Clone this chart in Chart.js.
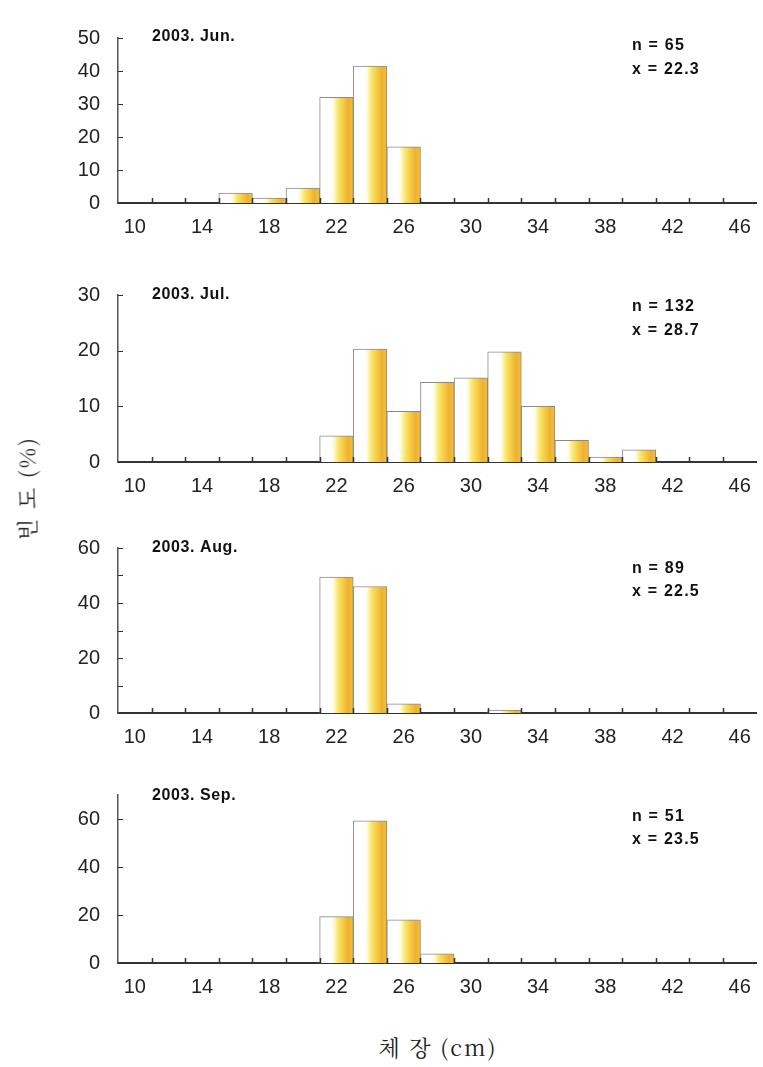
<!DOCTYPE html>
<html>
<head>
<meta charset="utf-8">
<script src="https://cdn.jsdelivr.net/npm/chart.js@4"></script>
<style>
	body { margin: 0; background: #ffffff; }
	#page { position: relative; width: 763px; height: 1067px; overflow: hidden; }
	canvas { position: absolute; left: 0; }
	.axisTitle { position: absolute; font-family: "Noto Serif CJK KR", "Noto Sans CJK KR", serif; font-size: 22px; letter-spacing: 2px; color: #222; white-space: nowrap; }
	#yTitle { left: 26px; top: 488px; transform: translate(-50%, -50%) rotate(-90deg); }
	#xTitle { left: 438px; top: 1046px; transform: translate(-50%, -50%); }
</style>
</head>
<body>
<div id="page">
	<canvas id="chartJun"></canvas>
	<canvas id="chartJul"></canvas>
	<canvas id="chartAug"></canvas>
	<canvas id="chartSep"></canvas>
	<div class="axisTitle" id="yTitle">빈 도 (%)</div>
	<div class="axisTitle" id="xTitle">체 장 (cm)</div>
</div>
<script>
// length classes (cm), one bar per 2 cm class
let lengthClasses = [10, 12, 14, 16, 18, 20, 22, 24, 26, 28, 30, 32, 34, 36, 38, 40, 42, 44, 46];

let junValues = [0, 0, 0, 3.0, 1.5, 4.5, 32.0, 41.5, 17.0, 0, 0, 0, 0, 0, 0, 0, 0, 0, 0];
let julValues = [0, 0, 0, 0, 0, 0, 4.7, 20.3, 9.1, 14.3, 15.1, 19.8, 10.0, 3.9, 0.9, 2.2, 0, 0, 0];
let augValues = [0, 0, 0, 0, 0, 0, 49.4, 46.0, 3.3, 0, 0, 1.1, 0, 0, 0, 0, 0, 0, 0];
let sepValues = [0, 0, 0, 0, 0, 0, 19.3, 59.2, 18.0, 3.8, 0, 0, 0, 0, 0, 0, 0, 0, 0];

let panelTitles = ["2003. Jun.", "2003. Jul.", "2003. Aug.", "2003. Sep."];
let sampleSizes = ["n = 65", "n = 132", "n = 89", "n = 51"];
let meanLengths = ["x = 22.3", "x = 28.7", "x = 22.5", "x = 23.5"];
let yMaxValues = [50, 30, 60, 70];
let yLabelSteps = [10, 10, 20, 20];

// layout of each panel on the page (pixels)
let plotTops = [18, 275, 528, 775];
let plotBottoms = [203, 462, 713, 963];
let titleY = [37, 295, 548, 796];
let sizeY = [46, 307, 569, 817];
let meanY = [70, 331, 592, 840];

let canvasIds = ["chartJun", "chartJul", "chartAug", "chartSep"];
let allValues = [junValues, julValues, augValues, sepValues];

let tickFont = { family: "'Liberation Sans', Arial, sans-serif", size: 20 };

function barFill(context) {
	let chart = context.chart;
	let xScale = chart.scales.x;
	if (!xScale || context.dataIndex === undefined) {
		return "#f5c842";
	}
	let center = xScale.getPixelForValue(context.dataIndex);
	let half = (xScale.getPixelForValue(1) - xScale.getPixelForValue(0)) / 2;
	if (!isFinite(center) || !isFinite(half) || half <= 0) {
		return "#f5c842";
	}
	let g = chart.ctx.createLinearGradient(center - half, 0, center + half, 0);
	g.addColorStop(0, "#ffffff");
	g.addColorStop(0.34, "#ffffff");
	g.addColorStop(0.42, "#fffbd2");
	g.addColorStop(0.55, "#fbe466");
	g.addColorStop(0.7, "#f6cb45");
	g.addColorStop(0.85, "#eeb131");
	g.addColorStop(1, "#f3c03c");
	return g;
}

// small tick marks drawn inside the plot, plus the text in each panel
let panelDecor = {
	id: "panelDecor",
	afterDraw(chart) {
		let ctx = chart.ctx;
		let xScale = chart.scales.x;
		let yScale = chart.scales.y;
		let area = chart.chartArea;
		let p = chart.options.plugins.panelDecor;

		ctx.save();
		ctx.strokeStyle = "#333";
		ctx.lineWidth = 1.5;
		let step = xScale.getPixelForValue(1) - xScale.getPixelForValue(0);
		for (let i = 1; i < lengthClasses.length; i++) {
			let x = Math.round(xScale.getPixelForValue(i) - step / 2) + 0.5;
			ctx.beginPath();
			ctx.moveTo(x, area.bottom);
			ctx.lineTo(x, area.bottom - 5);
			ctx.stroke();
		}
		ctx.lineWidth = 1;
		yScale.ticks.forEach(function (t) {
			let y = Math.round(yScale.getPixelForValue(t.value)) + 0.5;
			ctx.beginPath();
			ctx.moveTo(area.left, y);
			ctx.lineTo(area.left + 5, y);
			ctx.stroke();
		});

		ctx.fillStyle = "#111";
		ctx.textBaseline = "middle";
		ctx.font = "bold 16px 'Liberation Sans', Arial, sans-serif";
		ctx.letterSpacing = "0.6px";
		ctx.fillText(p.title, 152, p.titleY - p.offset);
		ctx.letterSpacing = "1.2px";
		ctx.fillText(p.size, 632, p.sizeY - p.offset);
		ctx.fillText(p.mean, 632, p.meanY - p.offset);
		ctx.restore();
	}
};

function createPanel(i) {
	let canvas = document.getElementById(canvasIds[i]);
	let padTop = 10;
	let axisHeight = 44;
	let top = plotTops[i] - padTop;
	let height = plotBottoms[i] - plotTops[i] + padTop + axisHeight;
	canvas.width = 763;
	canvas.height = height;
	canvas.style.top = top + "px";
	canvas.style.width = "763px";
	canvas.style.height = height + "px";

	let labelStep = yLabelSteps[i];

	let config = {
		type: "bar",
		data: {
			labels: lengthClasses,
			datasets: [{
				data: allValues[i],
				backgroundColor: barFill,
				borderColor: "#8a8a8a",
				borderWidth: 1,
				borderSkipped: "start",
				barPercentage: 1,
				categoryPercentage: 1
			}]
		},
		options: {
			responsive: false,
			animation: false,
			devicePixelRatio: 1,
			layout: { padding: { top: padTop, right: 5, left: 0, bottom: 0 } },
			plugins: {
				legend: { display: false },
				tooltip: { enabled: false },
				panelDecor: {
					title: panelTitles[i],
					size: sampleSizes[i],
					mean: meanLengths[i],
					titleY: titleY[i],
					sizeY: sizeY[i],
					meanY: meanY[i],
					offset: top
				}
			},
			scales: {
				x: {
					grid: { display: false, drawTicks: false },
					border: { display: true, color: "#333", width: 2, dash: [3, 1] },
					ticks: {
						autoSkip: false,
						maxRotation: 0,
						padding: 12,
						color: "#222",
						font: tickFont,
						callback: function (value, index) {
							return index % 2 == 0 ? lengthClasses[index] : "";
						}
					},
					afterFit: function (scale) { scale.height = axisHeight; }
				},
				y: {
					min: 0,
					max: yMaxValues[i],
					grid: { display: false, drawTicks: false },
					border: { display: true, color: "#555", width: 1.5, dash: [2, 1] },
					ticks: {
						stepSize: 10,
						padding: 18,
						color: "#222",
						font: tickFont,
						callback: function (value) {
							return value % labelStep == 0 ? value : "";
						}
					},
					afterFit: function (scale) { scale.width = 118; }
				}
			}
		},
		plugins: [panelDecor]
	};

	return new Chart(canvas.getContext("2d"), config);
}

for (let i = 0; i < canvasIds.length; i++) {
	createPanel(i);
}
</script>
</body>
</html>
